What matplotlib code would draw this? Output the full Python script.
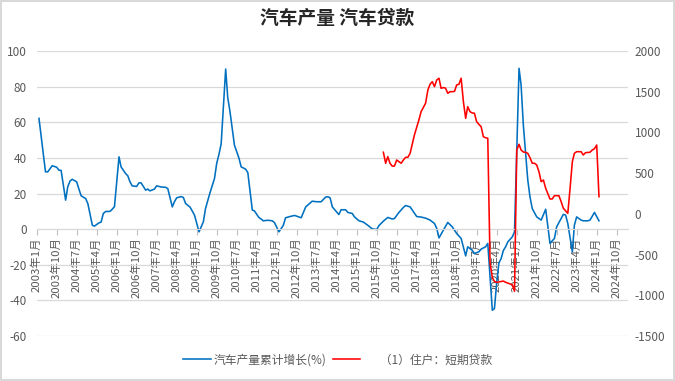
import pandas as pd
import matplotlib
matplotlib.use("Agg")
import matplotlib.pyplot as plt

plt.rcParams['font.family'] = ['Noto Sans CJK SC', 'DejaVu Sans']
plt.rcParams['axes.unicode_minus'] = False

# months counted from 2003-01 (0 = 2003年1月)
prod_month = [1, 4, 5, 7, 9, 10, 11, 13, 14, 15, 16, 18, 19, 20, 22, 23, 25, 26, 28, 29,
              30, 31, 33, 34, 35, 37, 38, 40, 41, 42, 43, 45, 46, 47, 49, 50, 51, 53, 54, 56,
              58, 59, 61, 62, 63, 65, 66, 67, 69, 71, 73, 75, 76, 78, 80, 81, 82, 83, 85, 86,
              87, 88, 89, 91, 92, 94, 95, 97, 98, 100, 101, 102, 104, 106, 107, 109, 111, 112, 114, 116,
              117, 119, 121, 124, 126, 128, 130, 131, 132, 133, 135, 136, 137, 139, 140, 142, 143, 145, 147, 149,
              151, 153, 154, 156, 158, 160, 161, 163, 165, 166, 168, 169, 171, 173, 175, 177, 179, 180, 181, 183,
              185, 187, 189, 191, 193, 194, 196, 197, 199, 200, 202, 203, 205, 206, 207, 208, 209, 210, 211, 212,
              214, 215, 217, 218, 219, 221, 222, 223, 225, 227, 229, 230, 231, 233, 234, 236, 237, 238, 239, 241,
              242, 243, 245, 246, 248, 249, 251, 253]
prod_growth = [62.2, 32.2, 32.2, 35.6, 34.8, 33.1, 33.0, 16.3, 23.8, 27.0, 28.0, 26.6, 22.5, 18.7, 17.2, 14.4, 2.2, 1.7, 3.5, 4.0,
               8.8, 9.9, 10.0, 11.2, 12.7, 40.6, 35.0, 31.3, 30.0, 26.6, 24.3, 24.0, 26.0, 26.0, 21.9, 22.5, 21.5, 22.5, 24.3, 23.7,
               23.5, 22.8, 12.5, 15.4, 17.6, 18.3, 17.8, 14.4, 12.4, 7.9, -1.5, 4.1, 11.6, 20.4, 28.5, 36.9, 42.0, 47.8, 89.9, 74.0,
               66.0, 56.6, 47.2, 40.0, 35.0, 33.7, 31.8, 10.7, 10.3, 6.6, 5.7, 4.7, 5.0, 4.7, 3.7, -1.5, 2.2, 6.4, 7.1, 7.7,
               7.3, 6.4, 12.5, 15.7, 15.4, 15.4, 18.0, 18.2, 17.6, 12.5, 9.7, 8.2, 10.9, 10.9, 9.4, 8.8, 6.9, 4.7, 4.0, 2.2,
               0.2, -0.2, 2.0, 4.5, 6.6, 5.7, 6.0, 9.4, 12.2, 13.3, 12.5, 10.7, 7.1, 6.8, 6.2, 5.1, 3.2, 0.4, -4.9, -0.6,
               3.8, 1.3, -2.4, -5.2, -15.0, -9.9, -11.8, -13.7, -12.7, -11.2, -9.9, -8.0, -45.5, -44.6, -30.0, -19.0, -16.5, -12.0, -9.9, -7.1,
               -4.3, -1.5, 90.3, 81.0, 58.4, 27.5, 18.1, 11.6, 6.9, 5.1, 11.2, 2.2, -8.0, -5.2, 1.3, 6.0, 8.3, 7.9, 3.2, -12.7,
               2.2, 6.9, 5.1, 4.7, 4.7, 5.1, 9.4, 4.7]

loan_month = [156, 157, 158, 159, 160, 161, 162, 163, 164, 165, 166, 167, 168, 170, 172, 173, 175, 176, 177, 178,
              179, 180, 181, 182, 183, 184, 185, 186, 187, 188, 189, 190, 191, 192, 193, 194, 195, 196, 197, 198,
              199, 200, 201, 202, 203, 204, 205, 206, 207, 208, 209, 210, 211, 212, 213, 214, 215, 216, 217, 218,
              219, 220, 221, 222, 223, 224, 225, 226, 227, 228, 229, 231, 232, 233, 235, 236, 237, 239, 240, 241,
              242, 243, 245, 246, 247, 249, 250, 251, 252, 253]
loan_value = [757, 622, 703, 622, 587, 588, 662, 642, 622, 662, 695, 695, 744, 969, 1153, 1256, 1359, 1520, 1592, 1624,
              1563, 1645, 1666, 1543, 1551, 1545, 1481, 1501, 1501, 1505, 1584, 1592, 1666, 1378, 1174, 1317, 1256, 1240, 1236, 1133,
              1100, 1071, 948, 935, 929, -600, -780, -830, -840, -835, -830, -825, -840, -850, -860, -870, -950, 785, 855, 785,
              760, 757, 744, 690, 622, 622, 601, 518, 396, 416, 314, 183, 183, 224, 224, 150, 69, 7, 314, 641,
              744, 764, 764, 724, 752, 757, 785, 800, 846, 211]

left_ticks = [-60, -40, -20, 0, 20, 40, 60, 80, 100]
right_ticks = [-1500, -1000, -500, 0, 500, 1000, 1500, 2000]
title = '汽车产量 汽车贷款'
prod_name = '汽车产量累计增长(%)'
loan_name = '      （1）住户：短期贷款'

start = pd.Timestamp('2003-01-01')
prod_x = [start + pd.DateOffset(months=m) for m in prod_month]
loan_x = [start + pd.DateOffset(months=m) for m in loan_month]
xticks = pd.date_range('2003-01-01', '2024-10-01', freq='9MS')

grey = '#595959'
fig = plt.figure(figsize=(6.75, 3.81), dpi=100)
fig.patch.set_edgecolor('#d9d9d9')
fig.patch.set_linewidth(1.5)
ax = fig.add_axes([0.0544, 0.118, 0.8756, 0.748])
ax2 = ax.twinx()

l1, = ax.plot(prod_x, prod_growth, color='#0070C0', lw=1.15, label=prod_name)
l2, = ax2.plot(loan_x, loan_value, color='#FF0000', lw=1.15, label=loan_name)

ax.set_ylim(-60, 100)
ax.set_yticks(left_ticks)
ax2.set_ylim(-1500, 2000)
ax2.set_yticks(right_ticks)
ax.set_xlim(pd.Timestamp('2003-01-01'), pd.Timestamp('2025-03-01'))
ax.set_xticks(xticks)
ax.set_xticklabels([f'{d.year}年{d.month}月' for d in xticks])
ax.tick_params(axis='x', labelrotation=90)
for lab in ax.get_xticklabels():
    lab.set_va('top')
    lab.set_ha('center')

ax.grid(axis='y', color='#d9d9d9', lw=0.9)
ax.set_axisbelow(True)
for s in ['left', 'right', 'top']:
    ax.spines[s].set_visible(False)
    ax2.spines[s].set_visible(False)
ax2.spines['bottom'].set_visible(False)
ax.spines['bottom'].set_position(('data', 0))
ax.spines['bottom'].set_color('#d9d9d9')

ax.tick_params(axis='y', length=0, pad=7, labelsize=8.5, labelcolor=grey)
ax2.tick_params(axis='y', length=0, pad=5, labelsize=8.5, labelcolor=grey)
ax.tick_params(axis='x', length=4, color='#bfbfbf', pad=2, labelsize=8.2, labelcolor=grey)

fig.text(0.5, 0.952, title, ha='center', va='center', fontsize=13.5, fontweight='bold', color='#262626')
fig.legend(handles=[l1, l2], loc='center', bbox_to_anchor=(0.5, 0.055), ncol=2, frameon=False,
           fontsize=8.5, labelcolor=grey, handlelength=2.3, columnspacing=0.5, handletextpad=0.3)

fig.savefig('out.png', dpi=100, edgecolor=fig.get_edgecolor())
